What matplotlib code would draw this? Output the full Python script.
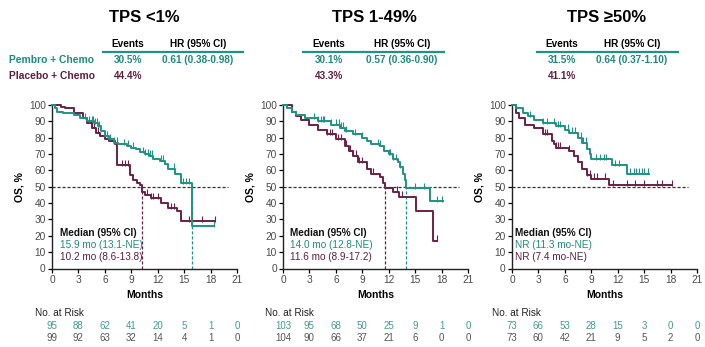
import numpy as np
import matplotlib
matplotlib.use("Agg")
import matplotlib.pyplot as plt
from matplotlib.transforms import blended_transform_factory

plt.rcParams['font.family'] = ['Liberation Sans', 'DejaVu Sans']

TEAL = "#1f9383"
MAROON = "#6a2145"
TEAL_TXT = "#1d8a7b"
MAROON_TXT = "#5c1f3c"

titles = ["TPS <1%", "TPS 1-49%", "TPS \u226550%"]
events_pembro = ["30.5%", "30.1%", "31.5%"]
events_placebo = ["44.4%", "43.3%", "41.1%"]
hr_text = ["0.61 (0.38-0.98)", "0.57 (0.36-0.90)", "0.64 (0.37-1.10)"]
median_pembro = ["15.9 mo (13.1-NE)", "14.0 mo (12.8-NE)", "NR (11.3 mo-NE)"]
median_placebo = ["10.2 mo (8.6-13.8)", "11.6 mo (8.9-17.2)", "NR (7.4 mo-NE)"]
median_pembro_val = [15.9, 14.0, None]
median_placebo_val = [10.2, 11.6, None]

risk_months = [0, 3, 6, 9, 12, 15, 18, 21]
risk_pembro = [[95, 88, 62, 41, 20, 5, 1, 0],
               [103, 95, 68, 50, 25, 9, 1, 0],
               [73, 66, 53, 28, 15, 3, 0, 0]]
risk_placebo = [[99, 92, 63, 32, 14, 4, 1, 0],
                [104, 90, 66, 37, 21, 6, 0, 0],
                [73, 60, 42, 21, 9, 5, 2, 0]]

# Kaplan-Meier step curves (time in months, OS %)
p1_t = [0, 0.3, 0.6, 1.2, 2.5, 3.2, 4.0, 4.8, 5.2, 5.6, 6.0, 6.5, 7.0, 7.5, 8.5, 9.0, 9.5, 10.0, 10.5, 11.0, 11.5, 12.3, 12.8, 13.2, 14.0, 14.6, 15.9, 18.4]
p1_s = [100, 98, 96, 95, 94, 92, 90, 89, 87, 84, 81, 79, 77, 76, 75, 74, 73, 71, 70, 69, 67, 66, 64, 61, 58, 52, 26, 26]
c1_t = [0, 1.0, 1.5, 2.5, 3.5, 4.0, 4.5, 5.0, 5.5, 6.0, 6.5, 7.2, 7.4, 8.8, 9.2, 9.6, 10.0, 10.2, 10.6, 11.2, 12.4, 13.2, 14.2, 14.7, 18.5]
c1_s = [100, 99, 98, 95, 92, 89, 86, 83, 81, 79, 78, 76, 63, 57, 54, 52, 51, 47, 45, 43, 40, 37, 35, 29, 29]

p2_t = [0, 0.5, 1.0, 1.5, 2.5, 4.0, 5.5, 6.5, 7.0, 8.0, 9.0, 9.5, 10.0, 11.0, 11.5, 12.0, 12.5, 13.0, 13.3, 13.6, 13.9, 14.0, 16.7, 18.2]
p2_s = [100, 98, 96, 94, 92, 90, 88, 86, 84, 82, 80, 78, 76, 75, 72, 70, 67, 65, 62, 58, 54, 49, 41, 41]
c2_t = [0, 1.0, 1.5, 2.0, 3.0, 4.0, 5.0, 6.0, 7.0, 7.5, 8.0, 8.5, 9.5, 10.0, 11.0, 11.3, 11.6, 12.5, 13.2, 15.1, 17.0, 17.5]
c2_s = [100, 96, 93, 91, 88, 85, 82, 79, 75, 72, 69, 65, 61, 58, 56, 52, 49, 47, 44, 35, 17, 17]

p3_t = [0, 0.5, 1.3, 1.8, 2.5, 3.5, 5.0, 6.0, 6.5, 7.5, 8.0, 8.5, 8.8, 9.0, 11.3, 13.0, 15.6]
p3_s = [100, 98, 95, 93, 91, 89, 87, 85, 83, 80, 77, 73, 70, 67, 63, 58, 58]
c3_t = [0, 0.4, 0.8, 1.5, 2.5, 3.5, 4.5, 4.8, 5.0, 6.5, 7.0, 7.5, 8.0, 8.5, 9.0, 11.0, 18.2]
c3_s = [100, 95, 92, 88, 86, 82, 78, 76, 74, 72, 69, 65, 61, 57, 55, 51, 51]

# censor times
p1_cens = [3.8, 4.2, 4.5, 4.7, 4.9, 5.1, 5.3, 6.2, 6.6, 7.0, 7.4, 8.2, 8.6, 9.2, 10.3, 10.6, 10.9, 11.1, 11.3, 12.4, 12.6, 13.8, 14.9, 15.2, 15.5, 18.4]
c1_cens = [4.5, 4.8, 5.2, 8.0, 8.3, 8.6, 10.8, 11.2, 11.5, 12.0, 13.5, 13.8, 15.5, 17.0, 18.5]
p2_cens = [3.5, 4.0, 4.3, 4.5, 4.7, 5.5, 6.0, 6.3, 6.6, 6.8, 7.2, 8.2, 9.0, 10.8, 11.0, 12.0, 12.2, 12.5, 12.8, 13.3, 15.0, 16.0, 17.5, 18.0]
c2_cens = [5.0, 5.3, 5.6, 6.2, 6.6, 7.2, 7.6, 8.0, 8.3, 8.6, 9.0, 10.2, 12.9, 13.5, 17.5]
p3_cens = [2.0, 3.5, 4.0, 4.8, 5.2, 5.5, 6.3, 6.8, 7.2, 7.5, 7.8, 8.1, 8.4, 9.5, 10.0, 10.4, 10.7, 11.7, 12.2, 13.4, 13.8, 14.1, 14.4, 14.7, 15.0, 15.4]
c3_cens = [3.8, 4.0, 5.0, 5.2, 5.5, 6.5, 8.5, 8.8, 9.3, 9.6, 10.5, 11.5, 13.0, 14.0, 15.0, 16.5, 17.0, 18.2]

curves = [
    ((p1_t, p1_s, p1_cens), (c1_t, c1_s, c1_cens)),
    ((p2_t, p2_s, p2_cens), (c2_t, c2_s, c2_cens)),
    ((p3_t, p3_s, p3_cens), (c3_t, c3_s, c3_cens)),
]

W, H = 705, 347
fig = plt.figure(figsize=(W / 100, H / 100), dpi=100)


def fx(x):
    return x / W


def fy(y):
    return 1 - y / H


# layout (pixels)
ax_left = [52, 283, 512]
ax_w = 185
ax_top, ax_bot = 105, 268.5
title_cx = [144, 374, 607]
ev_cx = [128, 329, 562]
hr_cx = [198, 402, 632]
line_x = [(103, 243), (303, 444), (537, 678)]
median_x = [0.9, 0.8, 0.35]
risk_label_x = [35, 265, 492]

for i in range(3):
    ax = fig.add_axes([fx(ax_left[i]), fy(ax_bot), fx(ax_w), (ax_bot - ax_top) / H])
    (pt, ps, pc), (ct, cs, cc) = curves[i]
    for (t, s, cens, col) in [(ct, cs, cc, MAROON), (pt, ps, pc, TEAL)]:
        t = np.array(t, float)
        s = np.array(s, float)
        ax.step(t, s, where='post', color=col, lw=1.4, clip_on=False, zorder=3)
        cens = np.array(cens, float)
        idx = np.searchsorted(t, cens, side='right') - 1
        ax.plot(cens, s[idx] + 1.5, linestyle='none', marker='|', ms=5, mew=0.8,
                color=col, clip_on=False, zorder=3)
    ax.plot([0, 20], [50, 50], ls=(0, (2.5, 1.5)), color='#333333', lw=0.9, zorder=2)
    if median_pembro_val[i] is not None:
        ax.plot([median_placebo_val[i]] * 2, [0, 50], ls=(0, (2.5, 1.5)), color=MAROON, lw=0.9)
        ax.plot([median_pembro_val[i]] * 2, [0, 50], ls=(0, (2.5, 1.5)), color=TEAL, lw=0.9)

    ax.set_xlim(0, 21)
    ax.set_ylim(0, 100)
    ax.set_xticks(risk_months)
    ax.set_yticks(np.arange(0, 101, 10))
    ax.tick_params(axis='both', labelsize=7.3, labelcolor='#4a4a4a', length=3, width=0.9,
                   direction='out', pad=1.5)
    for sp in ['top', 'right']:
        ax.spines[sp].set_visible(False)
    for sp in ['left', 'bottom']:
        ax.spines[sp].set_linewidth(1.0)
        ax.spines[sp].set_color('#222222')
    ax.set_xlabel("Months", fontsize=7.5, fontweight='bold', labelpad=4)
    ax.set_ylabel("OS, %", fontsize=7.5, fontweight='bold', labelpad=3)

    # median text
    ax.text(median_x[i], 22, "Median (95% CI)", fontsize=7.2, fontweight='bold', color='#111111', va='center')
    ax.text(median_x[i], 14.6, median_pembro[i], fontsize=7.2, color=TEAL_TXT, va='center')
    ax.text(median_x[i], 7.2, median_placebo[i], fontsize=7.2, color=MAROON_TXT, va='center')

    # risk table
    tr = blended_transform_factory(ax.transData, fig.transFigure)
    for m, v in zip(risk_months, risk_pembro[i]):
        ax.text(m, fy(326), str(v), transform=tr, ha='center', va='center', fontsize=7,
                color='#3f9c90', clip_on=False)
    for m, v in zip(risk_months, risk_placebo[i]):
        ax.text(m, fy(338), str(v), transform=tr, ha='center', va='center', fontsize=7,
                color='#555555', clip_on=False)
    fig.text(fx(risk_label_x[i]), fy(313), "No. at Risk", fontsize=7.2, color='#222222', va='center')

    # titles & header table
    fig.text(fx(title_cx[i]), fy(18), titles[i], fontsize=12, fontweight='bold', ha='center', va='center')
    fig.text(fx(ev_cx[i]), fy(44), "Events", fontsize=7.2, fontweight='bold', ha='center', va='center')
    fig.text(fx(hr_cx[i]), fy(44), "HR (95% CI)", fontsize=7.2, fontweight='bold', ha='center', va='center')
    fig.add_artist(plt.Line2D([fx(line_x[i][0]), fx(line_x[i][1])], [fy(52), fy(52)],
                              color=TEAL, lw=1.6, transform=fig.transFigure))
    fig.text(fx(ev_cx[i]), fy(60), events_pembro[i], fontsize=7.2, fontweight='bold',
             color=TEAL_TXT, ha='center', va='center')
    fig.text(fx(hr_cx[i]), fy(60), hr_text[i], fontsize=7.2, fontweight='bold',
             color=TEAL_TXT, ha='center', va='center')
    fig.text(fx(ev_cx[i]), fy(76), events_placebo[i], fontsize=7.2, fontweight='bold',
             color=MAROON_TXT, ha='center', va='center')

fig.text(fx(9), fy(60), "Pembro + Chemo", fontsize=7.4, fontweight='bold', color=TEAL_TXT, va='center')
fig.text(fx(9), fy(76), "Placebo + Chemo", fontsize=7.4, fontweight='bold', color=MAROON_TXT, va='center')

fig.savefig("out.png", dpi=100)
